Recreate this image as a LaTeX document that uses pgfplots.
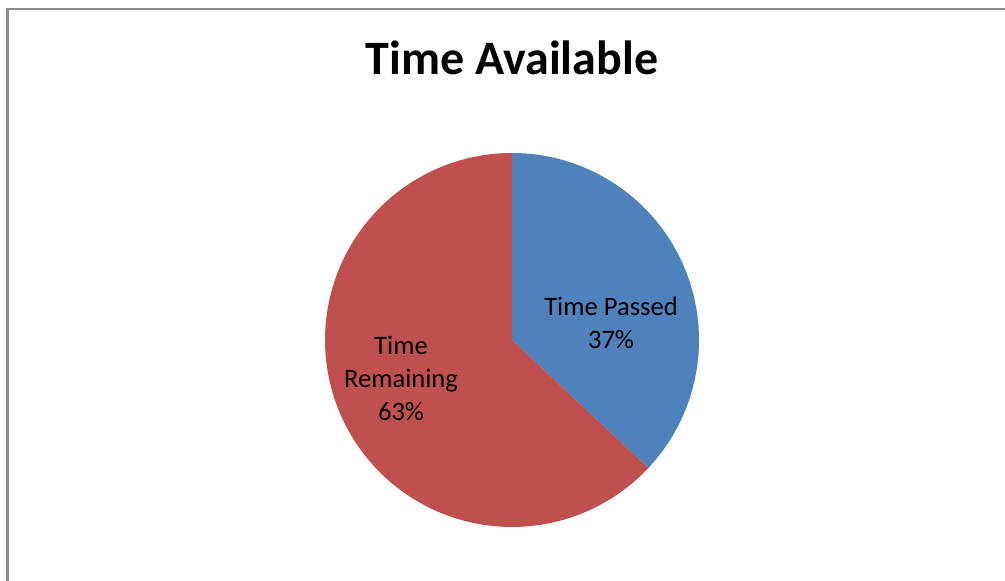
\documentclass[border=0pt]{standalone}
\usepackage{pgfplots}
\usepackage{pgfplotstable}
\pgfplotsset{compat=1.18}
\usepackage{fontspec}
\setmainfont{Carlito}
\definecolor{pieblue}{HTML}{4F81BD}
\definecolor{piered}{HTML}{C0504D}
\definecolor{frame}{HTML}{8C8C8C}
\pgfplotstableread{
label value
Passed 37
Remaining 63
}\piedata
\begin{document}
\begin{tikzpicture}
\pgfplotstablegetelem{0}{value}\of\piedata \let\vA\pgfplotsretval
\pgfplotstablegetelem{1}{value}\of\piedata \let\vB\pgfplotsretval
\pgfmathsetmacro{\tot}{\vA+\vB}
\pgfmathsetmacro{\aStart}{90}
\pgfmathsetmacro{\aEnd}{90-360*(\vA/\tot)}
\pgfmathsetmacro{\bEnd}{\aEnd-360*(\vB/\tot)}
\begin{axis}[
  width=502.5pt, height=290.5pt, scale only axis,
  xmin=0, xmax=1005, ymin=0, ymax=581,
  axis lines=none, ticks=none, clip=false,
]
\coordinate (BL) at (axis cs:0,0);
\coordinate (TR) at (axis cs:1005,581);
% chart frame
\draw[frame, line width=1.2pt] (axis cs:7.5,0) -- (axis cs:7.5,572) -- (axis cs:1005,572);
% slices
\addplot[fill=pieblue, draw=none, domain=\aEnd:\aStart, samples=120]
  ({512+187*cos(x)},{241+187*sin(x)}) -- (axis cs:512,241) -- cycle;
\addplot[fill=piered, draw=none, domain=\bEnd:\aEnd, samples=200]
  ({512+187*cos(x)},{241+187*sin(x)}) -- (axis cs:512,241) -- cycle;
% title
\node[anchor=base, font=\fontsize{24}{28}\selectfont\bfseries] at (axis cs:512,506) {Time Available};
% labels (base = baseline of last line)
\node[anchor=base, align=center, font=\fontsize{13.3}{16.5}\selectfont] at (axis cs:611,232) {Time Passed\\37\%};
\node[anchor=base, align=center, font=\fontsize{13.3}{16.5}\selectfont] at (axis cs:401,160) {Time\\Remaining\\63\%};
\end{axis}
\pgfresetboundingbox
\path[use as bounding box] (BL) rectangle (TR);
\end{tikzpicture}
\end{document}
